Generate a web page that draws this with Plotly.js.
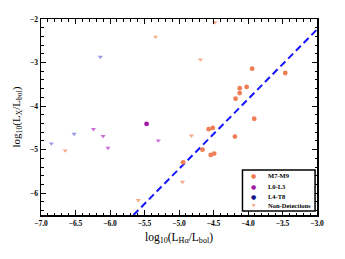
<!DOCTYPE html>
<html><head><meta charset="utf-8">
<script src="https://cdn.plot.ly/plotly-3.0.1.min.js"></script>
<style>html,body{margin:0;padding:0;background:#fff}#c{width:345px;height:259px}</style>
</head><body><div id="c"></div>
<script>
// M7-M9 detections
const m7x = [-3.94, -4.02, -4.12, -4.12, -4.18, -3.91, -4.57, -4.51, -4.19, -3.46, -4.66, -4.54, -4.49, -4.94];
const m7y = [-3.14, -3.56, -3.59, -3.70, -3.83, -4.29, -4.53, -4.50, -4.70, -3.24, -5.00, -5.12, -5.09, -5.29];
// L0-L3 detections
const l0x = [-5.47];
const l0y = [-4.41];
// Non-detections (upper limits), by group
const ndMx = [-5.34, -4.69, -4.48, -6.65, -5.59, -4.82, -4.95];
const ndMy = [-2.41, -2.93, -2.08, -5.02, -6.16, -4.68, -5.74];
const ndLx = [-6.24, -6.10, -6.03, -5.30];
const ndLy = [-4.53, -4.69, -4.96, -4.79];
const ndTx = [-6.14, -6.85, -6.52];
const ndTy = [-2.87, -4.86, -4.64];
// Fit line
const fitX = [-5.66, -3.0];
const fitY = [-6.5, -2.24];
// Legend entries
const legendNames = ['M7-M9', 'L0-L3', 'L4-T8', 'Non-Detections'];
const legendSymbols = ['●', '●', '●', '▼'];
const legendColors = ['#ef7e55', '#a41ca4', '#14148c', '#f7a98a'];

const serif = 'Liberation Serif, Times New Roman, serif';
const traces = [
  {x: fitX, y: fitY, mode: 'lines', line: {color: '#1414ff', width: 2, dash: '7px,4px'}, hoverinfo: 'skip'},
  {x: ndMx, y: ndMy, mode: 'markers', marker: {symbol: 'triangle-down', size: 4.5, color: '#f7a98a'}},
  {x: ndLx, y: ndLy, mode: 'markers', marker: {symbol: 'triangle-down', size: 4.5, color: '#cc70d8'}},
  {x: ndTx, y: ndTy, mode: 'markers', marker: {symbol: 'triangle-down', size: 4.5, color: '#9a9ae6'}},
  {x: m7x, y: m7y, mode: 'markers', name: 'M7-M9', marker: {symbol: 'circle', size: 4.8, color: '#ef7e55'}},
  {x: l0x, y: l0y, mode: 'markers', name: 'L0-L3', marker: {symbol: 'circle', size: 4.8, color: '#a41ca4'}}
];
const axisCommon = {
  showgrid: false, zeroline: false, showline: true, linecolor: '#000', linewidth: 1.5, mirror: 'ticks',
  ticks: 'inside', ticklen: 5, tickwidth: 1, tickcolor: '#000',
  tickfont: {family: serif, size: 7.5, color: '#000', weight: 'bold'}
};
// legend built as box + annotations
const lgLeft = 0.73, lgRight = 0.993, lgTop = 0.23, lgBottom = 0.02;
const rowY = [0.199, 0.144, 0.096, 0.047];
const annotations = [];
legendNames.forEach((n, i) => {
  annotations.push({xref: 'paper', yref: 'paper', x: 0.77, y: rowY[i], xanchor: 'center', yanchor: 'middle',
    text: legendSymbols[i], showarrow: false, font: {family: 'DejaVu Sans', size: i === 3 ? 4.5 : 6, color: legendColors[i]}});
  annotations.push({xref: 'paper', yref: 'paper', x: 0.815, y: rowY[i], xanchor: 'left', yanchor: 'middle',
    text: n, showarrow: false, font: {family: serif, size: 6.5, color: '#000', weight: 'bold'}});
});
const layout = {
  width: 345, height: 259,
  margin: {l: 41, r: 28, t: 19, b: 44},
  paper_bgcolor: '#fff', plot_bgcolor: '#fff',
  showlegend: false,
  xaxis: Object.assign({}, axisCommon, {
    range: [-7, -3], dtick: 0.5, tick0: -7, tickformat: '.1f',
    minor: {dtick: 0.1, ticks: 'inside', ticklen: 2.5, tickcolor: '#000', tickwidth: 1},
    title: {text: 'log<sub>10</sub>(L<sub>Hα</sub>/L<sub>bol</sub>)', font: {family: serif, size: 11.5, color: '#000'}, standoff: 6}
  }),
  yaxis: Object.assign({}, axisCommon, {
    range: [-6.5, -2], dtick: 1, tick0: -2,
    minor: {dtick: 0.2, ticks: 'inside', ticklen: 2.5, tickcolor: '#000', tickwidth: 1},
    title: {text: 'log<sub>10</sub>(L<sub>X</sub>/L<sub>bol</sub>)', font: {family: serif, size: 11, color: '#000'}, standoff: 7}
  }),
  shapes: [{type: 'rect', xref: 'paper', yref: 'paper', x0: lgLeft, x1: lgRight, y0: lgBottom, y1: lgTop,
    line: {color: '#000', width: 1.5}, fillcolor: '#fff', layer: 'above'}],
  annotations: annotations
};
Plotly.newPlot('c', traces, layout, {displayModeBar: false, staticPlot: true});
</script>
</body></html>
